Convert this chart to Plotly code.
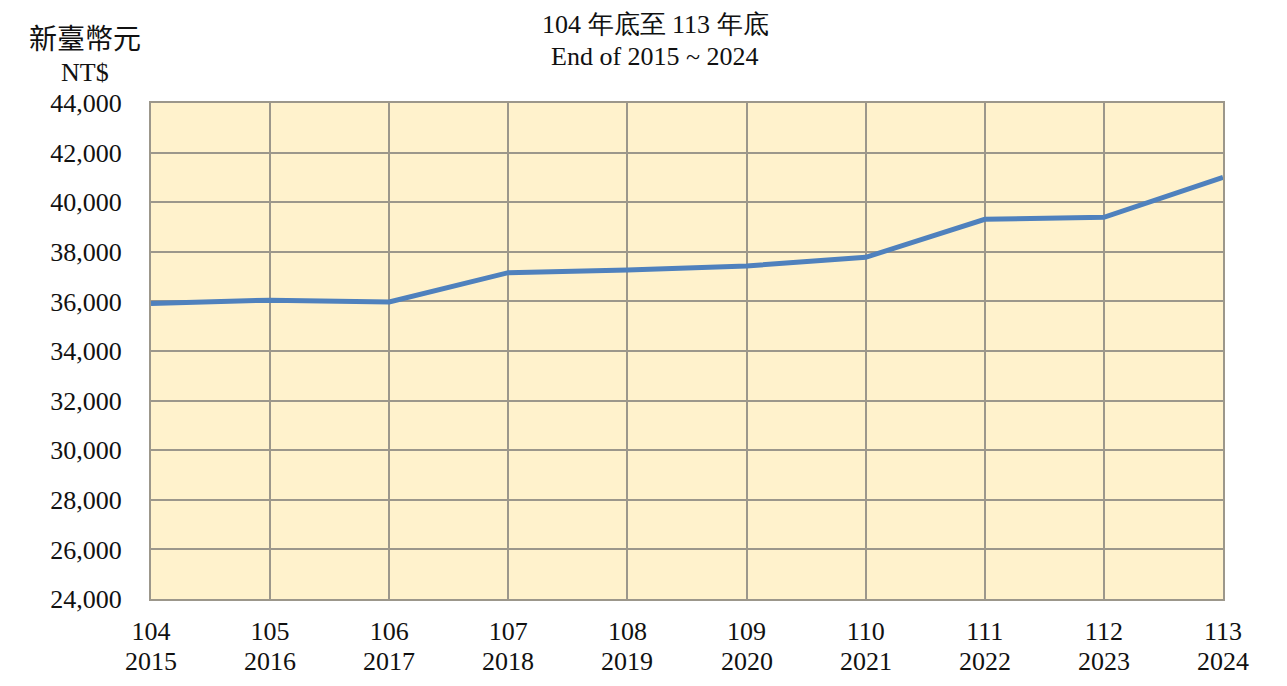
import plotly.graph_objects as go

# ROC year / Gregorian year labels
roc_years = ["104", "105", "106", "107", "108", "109", "110", "111", "112", "113"]
ad_years = ["2015", "2016", "2017", "2018", "2019", "2020", "2021", "2022", "2023", "2024"]
# Year-end values, NT$
values = [35920, 36050, 35980, 37160, 37270, 37430, 37780, 39310, 39390, 41000]

y_ticks = list(range(24000, 44001, 2000))

x_pos = list(range(len(values)))

serif = "Liberation Serif, Times New Roman, serif"
cjk = "Noto Sans CJK TC, Noto Sans CJK SC, sans-serif"

W, H = 1287, 686
ML, MR, MT, MB = 151, 64, 103, 87
PW, PH = W - ML - MR, H - MT - MB


def px_x(x):
    return (x - ML) / PW


def px_y(y):
    return (H - MB - y) / PH


fig = go.Figure()
fig.add_trace(go.Scatter(
    x=x_pos, y=values, mode="lines",
    line=dict(color="#4F81BD", width=5),
    hoverinfo="y",
))

grid_col = "#9C978B"
fig.update_layout(
    width=W, height=H,
    margin=dict(l=ML, r=MR, t=MT, b=MB),
    paper_bgcolor="white",
    plot_bgcolor="#FFF2CC",
    showlegend=False,
    font=dict(family=serif, size=26, color="#111111"),
    xaxis=dict(
        range=[0, 9], tickmode="array", tickvals=x_pos, ticktext=roc_years,
        showgrid=True, gridcolor=grid_col, gridwidth=1.5,
        showline=True, linecolor=grid_col, linewidth=2, mirror=True,
        zeroline=False, ticks="", ticklabelstandoff=8,
        tickfont=dict(family=serif, size=26),
    ),
    yaxis=dict(
        range=[24000, 44000], tickmode="array", tickvals=y_ticks,
        tickformat=",d",
        showgrid=True, gridcolor=grid_col, gridwidth=1.5,
        showline=True, linecolor=grid_col, linewidth=2, mirror=True,
        zeroline=False, ticks="", ticklabelstandoff=22,
        tickfont=dict(family=serif, size=26),
    ),
)

# Gregorian year as a second row under each ROC year
for xp, yr in zip(x_pos, ad_years):
    fig.add_annotation(
        x=xp, y=px_y(661), xref="x", yref="paper", text=yr,
        showarrow=False, xanchor="center", yanchor="middle",
        font=dict(family=serif, size=26),
    )

# Unit label and chart heading
header = [
    ("新臺幣元", 85, 37, cjk, 28),
    ("NT$", 85, 72, serif, 26),
    ("104 年底至 113 年底", 655, 24, serif, 26),
    ("End of 2015 ~ 2024", 655, 57, serif, 26),
]
for txt, hx, hy, fam, sz in header:
    fig.add_annotation(
        x=px_x(hx), y=px_y(hy), xref="paper", yref="paper", text=txt,
        showarrow=False, xanchor="center", yanchor="middle",
        font=dict(family=fam, size=sz),
    )

fig.write_html("out.html")
